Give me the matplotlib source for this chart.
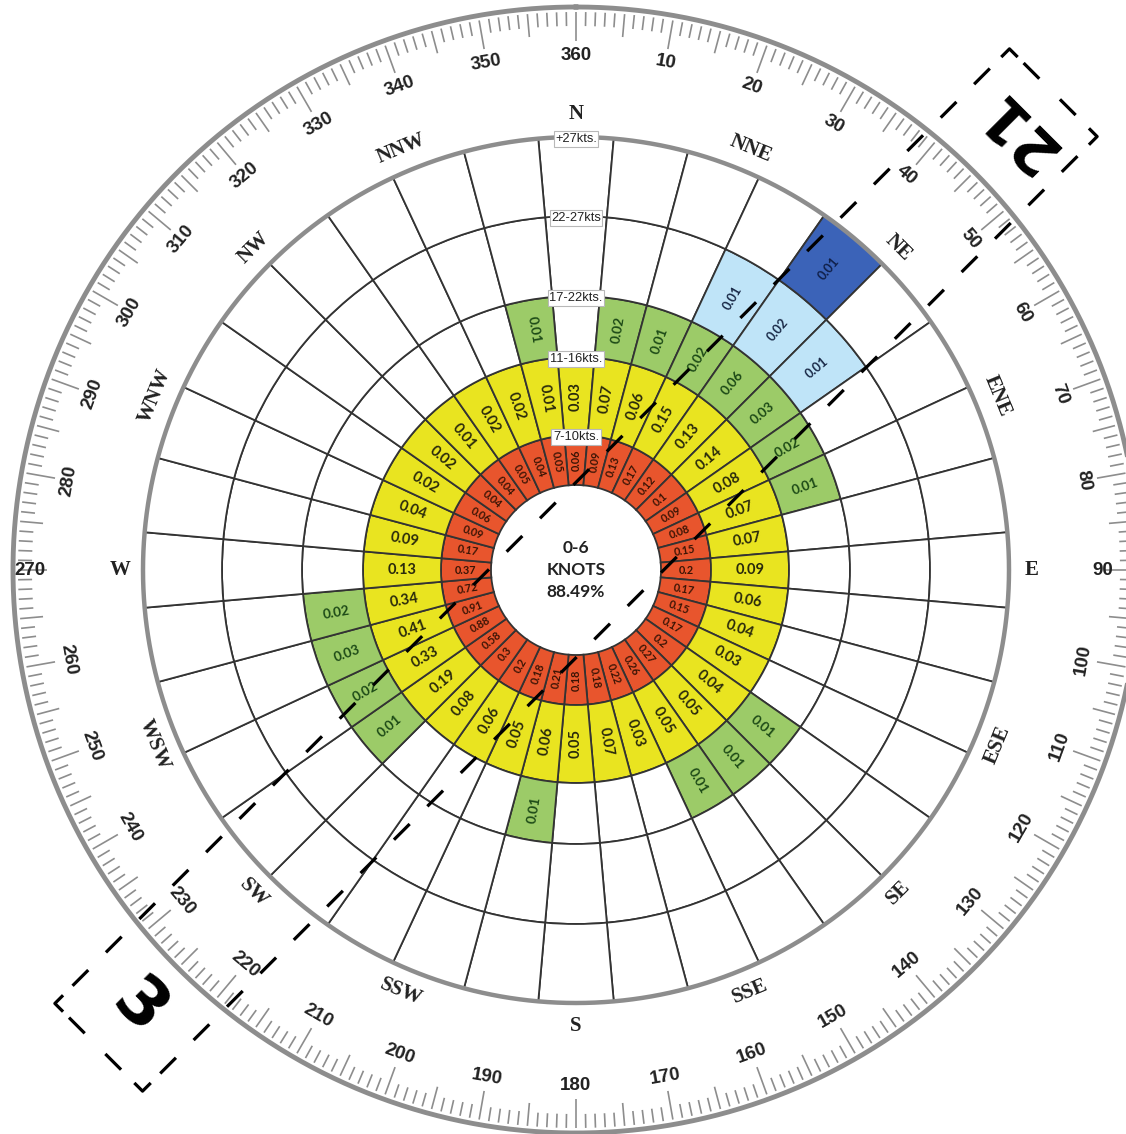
import numpy as np
import matplotlib
matplotlib.use("Agg")
import matplotlib.pyplot as plt

# ---------------- data ----------------
directions = list(range(0, 360, 10))          # sector centres (deg)
band_labels = ["7-10kts.", "11-16kts.", "17-22kts.", "22-27kts", "+27kts."]
calm_text = ["0-6", "KNOTS", "88.49%"]

freq_7_10 = [0.06, 0.09, 0.13, 0.17, 0.12, 0.1, 0.09, 0.08, 0.15, 0.2, 0.17, 0.15,
             0.17, 0.2, 0.27, 0.26, 0.22, 0.18, 0.18, 0.21, 0.18, 0.2, 0.3, 0.58,
             0.88, 0.91, 0.72, 0.37, 0.17, 0.09, 0.06, 0.04, 0.04, 0.05, 0.04, 0.05]
freq_11_16 = [0.03, 0.07, 0.06, 0.15, 0.13, 0.14, 0.08, 0.07, 0.07, 0.09, 0.06, 0.04,
              0.03, 0.04, 0.05, 0.05, 0.03, 0.07, 0.05, 0.06, 0.05, 0.06, 0.08, 0.19,
              0.33, 0.41, 0.34, 0.13, 0.09, 0.04, 0.02, 0.02, 0.01, 0.02, 0.02, 0.01]
freq_17_22 = [0, 0.02, 0.01, 0.02, 0.06, 0.03, 0.02, 0.01, 0, 0, 0, 0,
              0, 0.01, 0.01, 0.01, 0, 0, 0, 0.01, 0, 0, 0, 0.01,
              0.02, 0.03, 0.02, 0, 0, 0, 0, 0, 0, 0, 0, 0.01]
freq_22_27 = [0, 0, 0, 0.01, 0.02, 0.01, 0, 0, 0, 0, 0, 0,
              0, 0, 0, 0, 0, 0, 0, 0, 0, 0, 0, 0,
              0, 0, 0, 0, 0, 0, 0, 0, 0, 0, 0, 0]
freq_27_plus = [0, 0, 0, 0, 0.01, 0, 0, 0, 0, 0, 0, 0,
                0, 0, 0, 0, 0, 0, 0, 0, 0, 0, 0, 0,
                0, 0, 0, 0, 0, 0, 0, 0, 0, 0, 0, 0]

compass_points = ["N", "NNE", "NE", "ENE", "E", "ESE", "SE", "SSE",
                  "S", "SSW", "SW", "WSW", "W", "WNW", "NW", "NNW"]
runway_numbers = ["3", "21"]
runway_heading = 45.0

# ---------------- layout / style ----------------
W, H = 1126, 1134
CX, CY = 576, 570
R = 570
band_edges = [85, 135, 213, 274, 354, 433]
band_colors = ["#E8552D", "#E9E420", "#9CCB68", "#BFE4F8", "#3B63B8"]
text_colors = ["#3a1405", "#2a2a0c", "#1d4a17", "#1a2a48", "#10204a"]
text_sizes = [7.8, 10.5, 9.8, 9.2, 9.2]
EDGE = "#333333"
GRAY = "#8d8d8d"

plt.rcParams["lines.scale_dashes"] = False
fig = plt.figure(figsize=(W / 100, H / 100), dpi=100)
fig.patch.set_facecolor("white")
pos = [(CX - R) / W, (H - CY - R) / H, 2 * R / W, 2 * R / H]
ax = fig.add_axes(pos, projection="polar")
ax.set_theta_zero_location("N")
ax.set_theta_direction(-1)
ax.set_ylim(0, R)
ax.set_axis_off()

theta = np.deg2rad(directions)
width = np.deg2rad(10)
bands = [freq_7_10, freq_11_16, freq_17_22, freq_22_27, freq_27_plus]


def radial_rot(bearing):
    a = 90 - bearing
    while a > 90:
        a -= 180
    while a <= -90:
        a += 180
    return a


def tangential_rot(bearing):
    b = bearing % 360
    if b in (90, 270):
        return 0
    if 90 < b < 270:
        return 180 - b
    return -b


for i, vals in enumerate(bands):
    r0, r1 = band_edges[i], band_edges[i + 1]
    cols = [band_colors[i] if v > 0 else "white" for v in vals]
    ax.bar(theta, r1 - r0, width=width, bottom=r0, color=cols,
           edgecolor=EDGE, linewidth=1.3, align="center", zorder=2)
    rm = (r0 + r1) / 2
    for d, v in zip(directions, vals):
        if v > 0:
            ax.text(np.deg2rad(d), rm, f"{v:g}", rotation=radial_rot(d),
                    rotation_mode="anchor", ha="center", va="center",
                    fontsize=text_sizes[i], fontweight="bold",
                    color=text_colors[i], family="Lato", zorder=4)

circ = np.linspace(0, 2 * np.pi, 1441)
ax.plot(circ, np.full_like(circ, band_edges[-1]), color=GRAY, lw=3.2, zorder=3)

# band labels at north
for lab, r in zip(band_labels, band_edges[1:]):
    ax.text(0, r - 2, lab, ha="center", va="center", fontsize=9.3,
            family="Liberation Sans", color="#222222", zorder=5,
            bbox=dict(boxstyle="square,pad=0.12", fc="white", ec="#b8b8b8", lw=0.8))

# centre
ax.text(0, 0, "\n".join(calm_text), ha="center", va="center", fontsize=12.5,
        fontweight="bold", family="Lato", color="#222222", linespacing=1.45, zorder=5)

# compass point labels
for k, name in enumerate(compass_points):
    b = k * 22.5
    ax.text(np.deg2rad(b), 456, name, rotation=tangential_rot(b),
            rotation_mode="anchor", ha="center", va="center", fontsize=15,
            fontweight="bold", family="Liberation Serif", color="#222222")

# outer degree ring
deg = np.arange(360)
inner = np.where(deg % 10 == 0, 529, np.where(deg % 5 == 0, 535, 544))
ax.vlines(np.deg2rad(deg), inner, 558, color=GRAY, lw=1.2)
ax.plot(circ, np.full_like(circ, 563), color=GRAY, lw=3.5)
for d in range(0, 360, 10):
    lab = "360" if d == 0 else str(d)
    rr = {90: 527, 270: 546}.get(d, 515)
    ax.text(np.deg2rad(d), rr, lab, rotation=tangential_rot(d),
            rotation_mode="anchor", ha="center", va="center", fontsize=13.5,
            fontweight="bold", family="Liberation Sans", color="#222222", zorder=6)

# ---------------- runway overlay ----------------
ax2 = fig.add_axes(pos)
ax2.set_xlim(-R, R)
ax2.set_ylim(-R, R)
ax2.set_axis_off()
h = np.deg2rad(runway_heading)
eu = np.array([np.sin(h), np.cos(h)])      # along runway (towards NE)
ev = np.array([np.cos(h), -np.sin(h)])     # across runway
half_w = 62
edge_len = 650
end_u = 675
dash = (0, (16, 18))
for s in (-1, 1):
    p0 = -edge_len * eu + s * half_w * ev
    p1 = edge_len * eu + s * half_w * ev
    ax2.plot([p0[0], p1[0]], [p0[1], p1[1]], color="black", lw=2.3, ls=dash,
             solid_capstyle="butt", zorder=10)
arm = 10
for e in (-1, 1):
    c = e * end_u * eu
    a0 = c - half_w * ev + 20 * ev
    a1 = c + half_w * ev - 20 * ev
    ax2.plot([a0[0], a1[0]], [a0[1], a1[1]], color="black", lw=2.3,
             ls=(0, (16, 21)), zorder=10)
    for s in (-1, 1):
        corner = c + s * half_w * ev
        pts = np.array([corner - e * arm * eu, corner, corner - s * arm * ev])
        ax2.plot(pts[:, 0], pts[:, 1], color="black", lw=2.3, zorder=10)
for e, num, rot, fs, u in ((-1, runway_numbers[0], -runway_heading, 48, 618),
                           (1, runway_numbers[1], 180 - runway_heading, 44, 624)):
    c = e * u * eu
    ax2.text(c[0], c[1], num, rotation=rot, rotation_mode="anchor",
             ha="center", va="center", fontsize=fs, fontweight="bold",
             family="DejaVu Sans", color="black", zorder=11)

fig.savefig("out.png", dpi=100, facecolor="white")
